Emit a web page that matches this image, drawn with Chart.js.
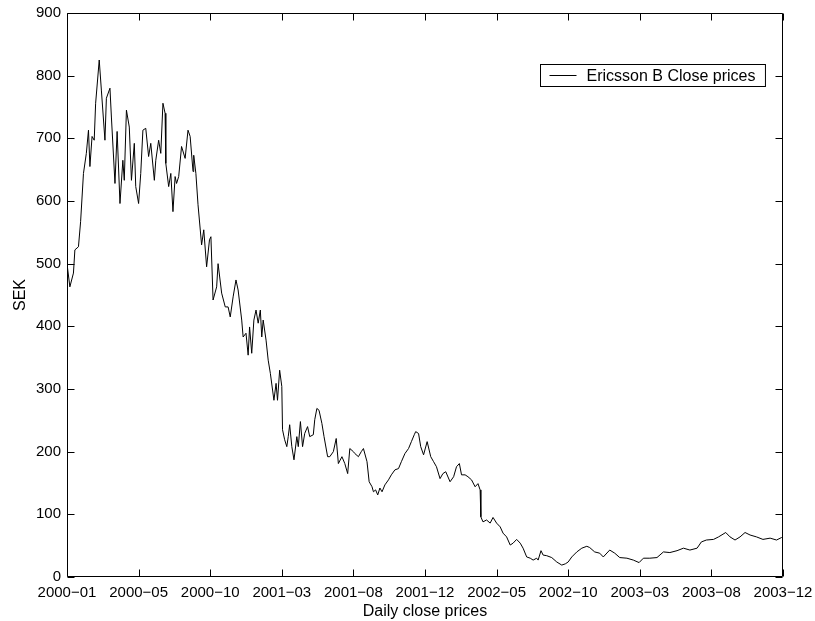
<!DOCTYPE html>
<html>
<head>
<meta charset="utf-8">
<title>Ericsson B Close prices</title>
<script src="https://cdn.jsdelivr.net/npm/chart.js@4/dist/chart.umd.min.js"></script>
<style>
  html, body { margin:0; padding:0; background:#fff; }
  #wrap { width:815px; height:621px; position:relative; }
</style>
</head>
<body>
<div id="wrap"><canvas id="chart" width="815" height="621"></canvas></div>
<script>
// ── Data (trading day index from 2000-01-03, close price in SEK) ──
const days = [
  0, 4, 9, 11, 16, 19, 23, 27, 30, 32, 35, 38, 40, 45, 48, 53, 55, 60, 62, 67,
  70, 74, 78, 80, 83, 87, 90, 94, 96, 100, 103, 106, 110, 114, 117, 122, 124, 128, 131, 134,
  137, 138, 142, 145, 148, 151, 153, 156, 160, 165, 169, 172, 176, 177, 180, 183, 188, 191, 195, 199,
  201, 204, 209, 211, 216, 221, 225, 228, 232, 236, 239, 244, 246, 250, 253, 255, 258, 261, 264, 267,
  270, 272, 274, 278, 281, 284, 289, 292, 294, 297, 300, 301, 304, 307, 309, 311, 314, 317, 321, 323,
  326, 329, 332, 336, 339, 344, 346, 349, 352, 356, 359, 364, 367, 372, 376, 379, 384, 388, 392, 395,
  400, 402, 407, 411, 414, 419, 422, 426, 428, 431, 434, 437, 440, 444, 449, 453, 458, 463, 467, 472,
  477, 481, 485, 487, 491, 494, 498, 503, 508, 512, 516, 521, 525, 529, 535, 540, 544, 548, 551, 556,
  560, 565, 570, 574, 577, 578, 581, 586, 591, 595, 600, 605, 609, 614, 619, 623, 628, 633, 637, 642,
  647, 651, 656, 658, 662, 665, 670, 677, 684, 691, 696, 700, 705, 712, 719, 726, 730, 737, 744, 749,
  758, 765, 772, 782, 791, 799, 805, 814, 824, 833, 842, 852, 861, 870, 880, 886, 893, 903, 910, 920,
  926, 933, 940, 947, 954, 963, 972, 982, 991, 998, 1000
];
const prices = [
  500, 463, 485, 522, 527, 567, 644, 676, 713, 655, 703, 697, 756, 825, 777, 697, 764, 780, 734, 628,
  711, 596, 665, 633, 745, 718, 633, 692, 623, 596, 644, 713, 716, 671, 692, 633, 665, 697, 676, 756,
  740, 660, 623, 644, 583, 639, 628, 639, 687, 668, 713, 703, 647, 673, 644, 594, 530, 554, 495, 538,
  543, 442, 463, 500, 453, 431, 431, 415, 447, 474, 458, 410, 383, 389, 354, 399, 357, 410, 426, 405,
  426, 383, 410, 378, 346, 325, 282, 309, 282, 330, 304, 235, 219, 208, 224, 243, 208, 187, 224, 208,
  248, 208, 229, 240, 224, 227, 251, 269, 266, 245, 224, 192, 192, 200, 221, 181, 192, 181, 165, 205,
  200, 197, 192, 200, 205, 184, 152, 144, 136, 139, 131, 142, 136, 147, 155, 163, 171, 173, 184, 197,
  205, 216, 227, 232, 229, 208, 195, 216, 192, 184, 176, 157, 165, 168, 152, 160, 176, 181, 163, 163,
  160, 155, 144, 149, 139, 96, 88, 91, 86, 95, 86, 80, 70, 64, 51, 54, 60, 54, 46, 32,
  30, 27, 30, 27, 42, 35, 34, 31, 24, 19, 21, 24, 32, 40, 46, 49, 47, 40, 38, 32,
  43, 38, 31, 30, 27, 23, 30, 30, 31, 40, 39, 42, 46, 43, 46, 56, 59, 60, 64, 71,
  64, 59, 64, 71, 67, 64, 60, 62, 59, 63, 64
];
const xTickLabels = [
  '2000\u221201', '2000\u221205', '2000\u221210', '2001\u221203', '2001\u221208', '2001\u221212',
  '2002\u221205', '2002\u221210', '2003\u221203', '2003\u221208', '2003\u221212'
];
const seriesLabel = 'Ericsson B Close prices';

const FONT = '"Liberation Sans", Arial, Helvetica, sans-serif';

// MATLAB-style box with inward ticks on all four sides
const boxPlugin = {
  id: 'box',
  afterDatasetsDraw(chart) {
    const { ctx, chartArea: a, scales: { x, y } } = chart;
    const L = Math.round(a.left) + 0.5, R = Math.round(a.right) - 0.5;
    const T = Math.round(a.top) + 0.5, B = Math.round(a.bottom) - 0.5;
    const len = 7;
    ctx.save();
    ctx.strokeStyle = '#000';
    ctx.lineWidth = 1;
    ctx.beginPath();
    ctx.rect(L, T, R - L, B - T);
    x.ticks.forEach(t => {
      const px = Math.round(x.getPixelForValue(t.value)) + 0.5;
      ctx.moveTo(px, B); ctx.lineTo(px, B - len);
      ctx.moveTo(px, T); ctx.lineTo(px, T + len);
    });
    y.ticks.forEach(t => {
      const py = Math.round(y.getPixelForValue(t.value)) + 0.5;
      ctx.moveTo(L, py); ctx.lineTo(L + len, py);
      ctx.moveTo(R, py); ctx.lineTo(R - len, py);
    });
    ctx.stroke();

    // legend box in the upper right corner
    ctx.font = '16px ' + FONT;
    const tw = ctx.measureText(seriesLabel).width;
    const bw = tw + 56, bh = 22;
    const bx = Math.round(a.right - 18 - bw) + 0.5;
    const by = Math.round(a.top + 51) + 0.5;
    ctx.fillStyle = '#fff';
    ctx.fillRect(bx, by, bw, bh);
    ctx.strokeRect(bx, by, bw, bh);
    ctx.beginPath();
    ctx.moveTo(bx + 9, by + 11); ctx.lineTo(bx + 36, by + 11);
    ctx.stroke();
    ctx.fillStyle = '#000';
    ctx.textBaseline = 'middle';
    ctx.textAlign = 'left';
    ctx.fillText(seriesLabel, bx + 46, by + 12);
    ctx.restore();
  }
};

new Chart(document.getElementById('chart'), {
  type: 'line',
  data: {
    datasets: [{
      label: seriesLabel,
      data: days.map((d, i) => ({ x: d, y: prices[i] })),
      borderColor: '#000',
      borderWidth: 1,
      pointRadius: 0,
      tension: 0,
      fill: false,
    }]
  },
  options: {
    responsive: false,
    animation: false,
    layout: { padding: { left: 0, top: 13, right: 32, bottom: 0 } },
    plugins: { legend: { display: false }, tooltip: { enabled: false } },
    scales: {
      x: {
        type: 'linear',
        min: 0, max: 1000,
        afterFit: s => { s.height = 44; s.paddingLeft = 0; s.paddingRight = 0; },
        grid: { display: false, drawTicks: false },
        border: { display: false },
        ticks: {
          stepSize: 100, maxRotation: 0, autoSkip: false, padding: 7,
          color: '#000', font: { family: FONT, size: 15 },
          callback: v => xTickLabels[Math.round(v / 100)] ?? ''
        },
        title: {
          display: true, text: 'Daily close prices', color: '#000',
          font: { family: FONT, size: 16 }, padding: { top: 0, bottom: 0 }
        }
      },
      y: {
        min: 0, max: 900,
        afterFit: s => { s.width = 67; s.paddingTop = 0; s.paddingBottom = 0; },
        grid: { display: false, drawTicks: false },
        border: { display: false },
        ticks: {
          stepSize: 100, padding: 6,
          color: '#000', font: { family: FONT, size: 15 }
        },
        title: {
          display: true, text: 'SEK', color: '#000',
          font: { family: FONT, size: 16 }, padding: { top: 11, bottom: 0 }
        }
      }
    }
  },
  plugins: [boxPlugin]
});
</script>
</body>
</html>
